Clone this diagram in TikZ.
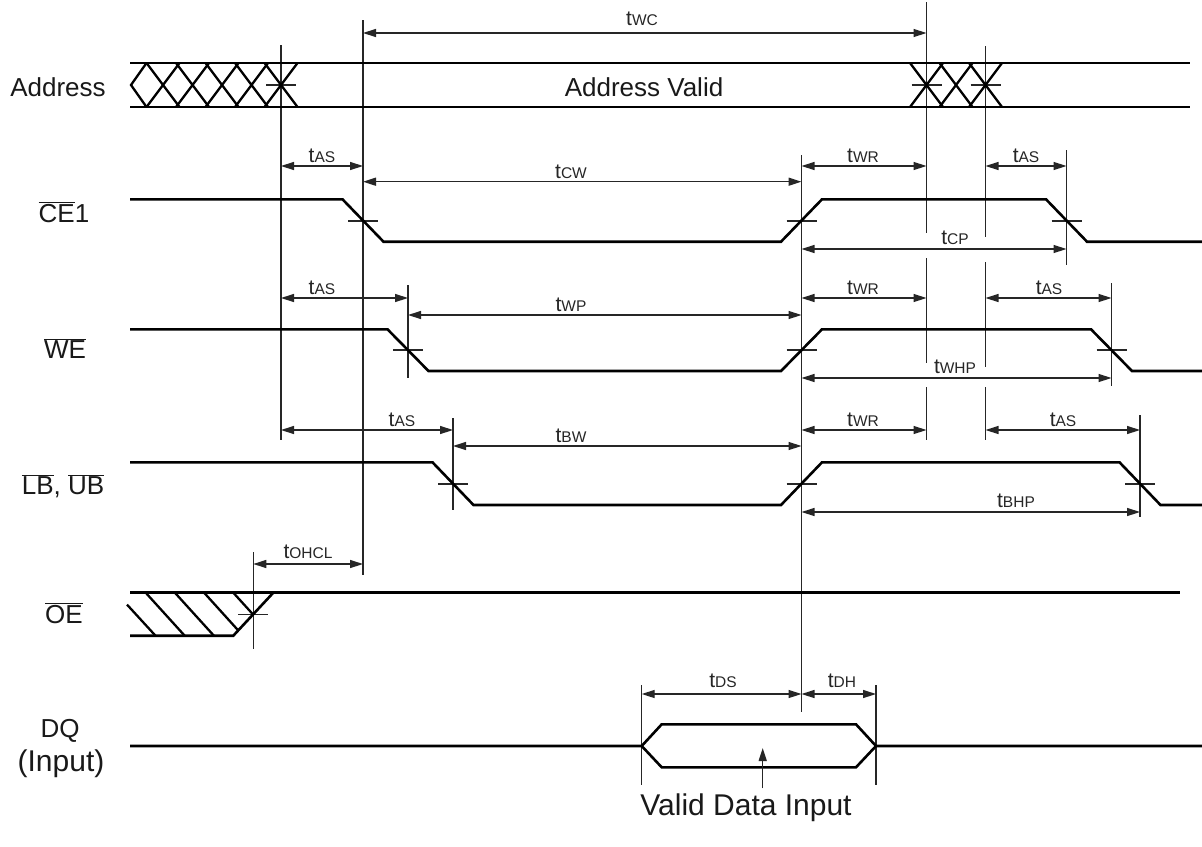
\documentclass[tikz,border=0pt]{standalone}
\usepackage{fontspec}
\setmainfont{Liberation Sans}
\usetikzlibrary{arrows.meta}
\newcommand{\tlbl}[1]{{\fontsize{21}{22}\selectfont t}{\fontsize{15.5}{17}\selectfont #1}}
\newcommand{\ovl}[1]{$\overline{\mbox{#1}}$}
\begin{document}
\begin{tikzpicture}[x=1pt,y=-1pt,
  >={Triangle[length=13pt,width=8pt]},
  sig/.style={line width=2.6pt,line join=miter},
  hatch/.style={line width=2.3pt},
  refl/.style={line width=1.4pt,draw=black!85},
  tick/.style={line width=1.2pt,draw=black!85},
  dim/.style={line width=1.4pt,draw=black!85,fill=black!85,<->},
  tl/.style={anchor=base,inner sep=0pt,text=black!85},
  sl/.style={anchor=base,inner sep=0pt,font=\fontsize{26}{30}\selectfont,text=black!90},
  bl/.style={anchor=base,inner sep=0pt,font=\fontsize{30}{34}\selectfont,text=black!90}]
\useasboundingbox (0,0) rectangle (1202,846);
\fill[white] (0,0) rectangle (1202,846);

% ---------- vertical reference lines ----------
\draw[refl] (281,45) -- (281,440);
\draw[refl] (363,20) -- (363,575);
\draw[refl] (408,285) -- (408,378);
\draw[refl] (453,418) -- (453,510);
\draw[refl] (801.5,155) -- (801.5,712);
\draw[refl] (926.5,2) -- (926.5,233) (926.5,258) -- (926.5,363) (926.5,387) -- (926.5,440);
\draw[refl] (985.5,46) -- (985.5,237) (985.5,262) -- (985.5,367) (985.5,387) -- (985.5,440);
\draw[refl] (1066.5,150) -- (1066.5,265);
\draw[refl] (1111.5,283) -- (1111.5,386);
\draw[refl] (1140,415) -- (1140,517);
\draw[refl] (253.3,552) -- (253.3,649);
\draw[refl] (641.7,685) -- (641.7,785);
\draw[refl] (876,685) -- (876,785);

% ---------- crossing ticks ----------
\foreach \x/\y in {281/85,926.5/85,985.5/85,363/221,801.5/221,1066.5/221,
                   408/350,801.5/350,1111.5/350,453/484,801.5/484,1140/484,253.3/614.2}
  \draw[tick] (\x-15,\y) -- (\x+15,\y);

% ---------- Address bus ----------
\draw[sig] (130,63) -- (1190,63);
\draw[sig] (130,107) -- (1190,107);
\draw[hatch] (146.5,63) -- (131,85) -- (146.5,107);
\foreach \c in {163,192.5,222,251.5,281,926.5,956,985.5}
  \draw[hatch] (\c-16.5,63) -- (\c+16.5,107) (\c+16.5,63) -- (\c-16.5,107);

% ---------- CE1 ----------
\draw[sig] (130,199.3) -- (342.5,199.3) -- (383.5,241.7) -- (781,241.7) -- (822,199.3)
  -- (1046,199.3) -- (1087,241.7) -- (1202,241.7);
% ---------- WE ----------
\draw[sig] (130,329.3) -- (387.5,329.3) -- (428.5,371) -- (781,371) -- (822,329.3)
  -- (1091,329.3) -- (1132,371) -- (1202,371);
% ---------- LB, UB ----------
\draw[sig] (130,462.3) -- (432.5,462.3) -- (473.5,505) -- (781,505) -- (822,462.3)
  -- (1119.5,462.3) -- (1160.5,505) -- (1202,505);
% ---------- OE ----------
\draw[sig] (130,592.7) -- (1180,592.7);
\draw[sig] (130,635.7) -- (233.3,635.7) -- (273.3,592.7);
\draw[hatch] (127,604.6) -- (155.5,635.7);
\draw[hatch] (145.7,592.7) -- (184.7,635.7);
\draw[hatch] (174.9,592.7) -- (213.9,635.7);
\draw[hatch] (204.1,592.7) -- (238.3,630.5);
\draw[hatch] (233.3,592.7) -- (253.1,614.5);
% ---------- DQ ----------
\draw[sig] (130,746) -- (641.7,746) -- (661.7,724.3) -- (856,724.3) -- (876,746) -- (1202,746);
\draw[sig] (641.7,746) -- (661.7,767.3) -- (856,767.3) -- (876,746);
\coordinate (vdtail) at (762.7,788);
\coordinate (vdtip) at (762.7,748);
\draw[refl,fill=black!85,->] (vdtail) -- (vdtip);

% ---------- dimension arrows ----------
\draw[dim] (363,33) -- (926.5,33);
\draw[dim] (281,166) -- (363,166);
\draw[dim] (363,181.7) -- (801.5,181.7);
\draw[dim] (801.5,166) -- (926.5,166);
\draw[dim] (985.5,166) -- (1066.5,166);
\draw[dim] (801.5,249) -- (1066.5,249);
\draw[dim] (281,298) -- (408,298);
\draw[dim] (408,315) -- (801.5,315);
\draw[dim] (801.5,298) -- (926.5,298);
\draw[dim] (985.5,298) -- (1111.5,298);
\draw[dim] (801.5,378) -- (1111.5,378);
\draw[dim] (281,430) -- (453,430);
\draw[dim] (453,446) -- (801.5,446);
\draw[dim] (801.5,430) -- (926.5,430);
\draw[dim] (985.5,430) -- (1140,430);
\draw[dim] (801.5,512) -- (1140,512);
\draw[dim] (253.3,564) -- (363,564);
\draw[dim] (641.7,694) -- (801.5,694);
\draw[dim] (801.5,694) -- (876,694);

% ---------- timing labels ----------
\node[tl] (lwc) at (642,25) {\tlbl{WC}};
\node[tl] (las1) at (322,162) {\tlbl{AS}};
\node[tl] (lcw) at (571,178) {\tlbl{CW}};
\node[tl] (lwr1) at (863,162) {\tlbl{WR}};
\node[tl] (las2) at (1026,162) {\tlbl{AS}};
\node[tl] (lcp) at (955,244) {\tlbl{CP}};
\node[tl] (las3) at (322,294) {\tlbl{AS}};
\node[tl] (lwp) at (571,311) {\tlbl{WP}};
\node[tl] (lwr2) at (863,294) {\tlbl{WR}};
\node[tl] (las4) at (1049,294) {\tlbl{AS}};
\node[tl] (lwhp) at (955,373) {\tlbl{WHP}};
\node[tl] (las5) at (402,426) {\tlbl{AS}};
\node[tl] (lbw) at (571,442) {\tlbl{BW}};
\node[tl] (lwr3) at (863,426) {\tlbl{WR}};
\node[tl] (las6) at (1063,426) {\tlbl{AS}};
\node[tl] (lbhp) at (1016,507) {\tlbl{BHP}};
\node[tl] (lohcl) at (308,558) {\tlbl{OHCL}};
\node[tl] (lds) at (723,687) {\tlbl{DS}};
\node[tl] (ldh) at (842,687) {\tlbl{DH}};

% ---------- signal labels ----------
\node[sl] (naddr) at (58,96) {Address};
\node[sl] (nvalid) at (644,96) {Address Valid};
\node[sl] (nce) at (64,222) {\ovl{CE}1};
\node[sl] (nwe) at (65,358) {\ovl{WE}};
\node[sl] (nlb) at (63,494) {\ovl{LB}, \ovl{UB}};
\node[sl] (noe) at (64,623) {\ovl{OE}};
\node[sl] (ndq) at (60,737) {DQ};
\node[bl] (ninp) at (61,771) {(Input)};
\node[bl] (nvdi) at (746,815) {Valid Data Input};
\end{tikzpicture}
\end{document}
